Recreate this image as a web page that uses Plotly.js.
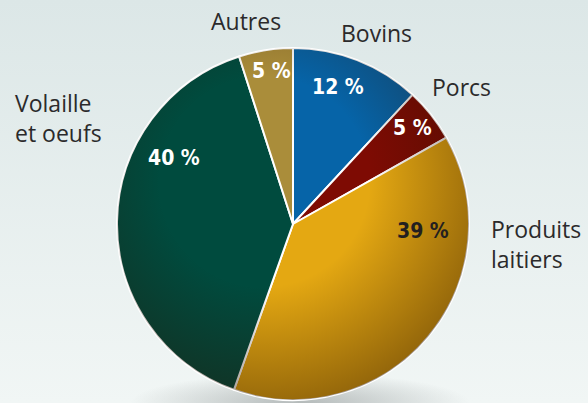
<!DOCTYPE html>
<html>
<head>
<meta charset="utf-8">
<script src="https://cdn.plot.ly/plotly-3.0.1.min.js"></script>
<style>html,body{margin:0;padding:0;background:#e4eded;}#chart{width:588px;height:403px;}</style>
</head>
<body>
<div id="chart"></div>
<script>
// ---- data ----
const categories = ["Bovins", "Porcs", "Produits laitiers", "Volaille et oeufs", "Autres"];
const shares = [12, 5, 39, 40, 5];
const labelLines = [["Bovins"], ["Porcs"], ["Produits", "laitiers"], ["Volaille", "et oeufs"], ["Autres"]];

// ---- styles / layout positions ----
const colors = ["#0664a8", "#7e0b03", "#e4a812", "#004b3e", "#aa8d3a"];
const pctColors = ["#ffffff", "#ffffff", "#231f20", "#ffffff", "#ffffff"];
const W = 588, H = 403;
const cx = 293, cy = 224, R = 176;
// label anchor positions in pixels (layout): centre of the text block
const labelPos = [
  {x: 376, y: 33, anchor: "center"},
  {x: 430, y: 87, anchor: "left"},
  {x: 489, y: 244, anchor: "left"},
  {x: 13, y: 118, anchor: "left"},
  {x: 246, y: 21, anchor: "center"}
];
const pctPos = [
  {x: 338, y: 87}, {x: 412, y: 128}, {x: 423, y: 231}, {x: 174, y: 158}, {x: 271, y: 71}
];

const px = v => v / W, py = v => 1 - v / H;

const annotations = [];
categories.forEach((c, i) => {
  annotations.push({
    text: labelLines[i].join("<br>"), xref: "paper", yref: "paper", showarrow: false,
    x: px(labelPos[i].x), y: py(labelPos[i].y),
    xanchor: labelPos[i].anchor, yanchor: "middle", align: "left",
    font: {family: "Open Sans, Noto Sans, sans-serif", size: 23, color: "#2b2a2b"}
  });
  annotations.push({
    text: "<b>" + shares[i] + " %</b>", xref: "paper", yref: "paper", showarrow: false,
    x: px(pctPos[i].x), y: py(pctPos[i].y), xanchor: "center", yanchor: "middle",
    font: {family: "Liberation Sans Narrow, DejaVu Sans Condensed, Arial Narrow, sans-serif", size: 21, color: pctColors[i]}
  });
});

const shade = "<svg xmlns='http://www.w3.org/2000/svg' width='352' height='352'><defs>" +
  "<radialGradient id='g' cx='0.42' cy='0.38' r='0.66'><stop offset='0.45' stop-color='#2a1000' stop-opacity='0'/>" +
  "<stop offset='1' stop-color='#2a1000' stop-opacity='0.45'/></radialGradient></defs>" +
  "<circle cx='176' cy='176' r='176' fill='url(#g)'/></svg>";
const bg = "<svg xmlns='http://www.w3.org/2000/svg' width='588' height='403'><defs>" +
  "<linearGradient id='b' x1='0' y1='0' x2='0' y2='1'><stop offset='0' stop-color='#dce7e7'/><stop offset='1' stop-color='#f1f6f5'/></linearGradient>" +
  "<radialGradient id='s' cx='0.5' cy='0.5' r='0.5'><stop offset='0' stop-color='#9aa0a0' stop-opacity='0.7'/><stop offset='1' stop-color='#9aa0a0' stop-opacity='0'/></radialGradient></defs>" +
  "<rect width='588' height='403' fill='url(#b)'/>" +
  "<ellipse cx='300' cy='403' rx='170' ry='30' fill='url(#s)'/></svg>";
const uri = s => "data:image/svg+xml;charset=utf-8," + encodeURIComponent(s);

const trace = {
  type: "pie",
  labels: categories,
  values: shares,
  sort: false,
  direction: "clockwise",
  rotation: 0,
  textinfo: "none",
  hoverinfo: "label+value",
  marker: {colors: colors, line: {color: "#ffffff", width: 2}},
  domain: {x: [px(cx - R), px(cx + R)], y: [py(cy + R), py(cy - R)]},
  showlegend: false
};

const layout = {
  width: W, height: H,
  margin: {l: 0, r: 0, t: 0, b: 0},
  paper_bgcolor: "#e4eded",
  showlegend: false,
  annotations: annotations,
  images: [
    {source: uri(bg), xref: "paper", yref: "paper", x: 0, y: 1, sizex: 1, sizey: 1,
     xanchor: "left", yanchor: "top", sizing: "stretch", layer: "below"},
    {source: uri(shade), xref: "paper", yref: "paper", x: px(cx - R), y: py(cy - R),
     sizex: 2 * R / W, sizey: 2 * R / H, xanchor: "left", yanchor: "top", sizing: "stretch", layer: "above"}
  ]
};

Plotly.newPlot("chart", [trace], layout, {staticPlot: true, displayModeBar: false});
</script>
</body>
</html>
